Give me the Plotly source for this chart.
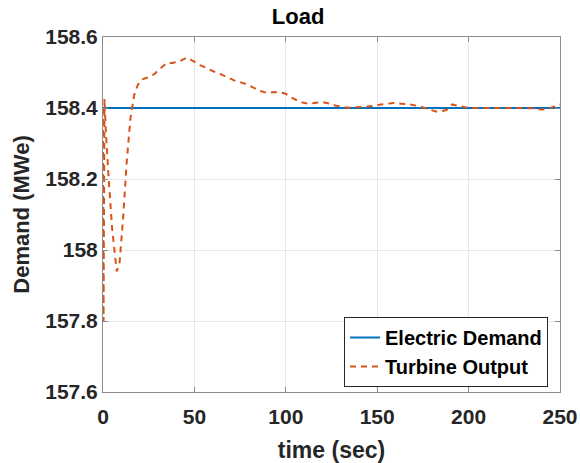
import plotly.graph_objects as go

# Simulation time (s) and turbine electrical output (MWe)
time_s = [0, 0.3, 0.8, 1.5, 3, 5, 7.5, 9, 11, 13, 15, 17, 19, 21, 24, 28, 31, 35, 38,
          42, 46, 49, 53, 57, 60, 64, 68, 72, 75, 79, 82, 86, 90, 94, 97, 100, 104,
          108, 112, 116, 120, 124, 127, 131, 135, 140, 144, 148, 152, 156, 159, 163,
          168, 173, 178, 182, 185, 188, 191, 195, 198, 202, 206, 210, 214, 218, 222,
          226, 231, 235, 240, 244, 248, 250]
turbine_output = [158.40, 157.80, 158.425, 158.34, 158.21, 158.06, 157.94, 157.96, 158.09,
                  158.25, 158.37, 158.435, 158.465, 158.48, 158.485, 158.495, 158.51,
                  158.527, 158.527, 158.532, 158.542, 158.532, 158.521, 158.512, 158.504,
                  158.496, 158.487, 158.477, 158.473, 158.466, 158.458, 158.448, 158.442,
                  158.445, 158.444, 158.44, 158.427, 158.417, 158.412, 158.415, 158.417,
                  158.412, 158.407, 158.403, 158.401, 158.403, 158.404, 158.406, 158.41,
                  158.413, 158.414, 158.412, 158.41, 158.405, 158.396, 158.39, 158.39,
                  158.395, 158.41, 158.405, 158.402, 158.40, 158.40, 158.401, 158.402,
                  158.40, 158.40, 158.40, 158.399, 158.399, 158.396, 158.398, 158.407,
                  158.41]

# Electric demand setpoint
demand_time = [0, 250]
demand_value = [158.4, 158.4]

# Axis ticks
x_ticks = [0, 50, 100, 150, 200, 250]
y_ticks = [157.6, 157.8, 158.0, 158.2, 158.4, 158.6]
y_tick_labels = ["157.6", "157.8", "158", "158.2", "158.4", "158.6"]

FONT = "Arial, Liberation Sans, Helvetica, sans-serif"
BLUE = "#0072BD"
ORANGE = "#D95319"

fig = go.Figure()
fig.add_trace(go.Scatter(x=demand_time, y=demand_value, mode="lines",
                         name="Electric Demand",
                         line=dict(color=BLUE, width=2)))
fig.add_trace(go.Scatter(x=time_s, y=turbine_output, mode="lines",
                         name="Turbine Output",
                         line=dict(color=ORANGE, width=2, dash="6px,5px")))

axis_common = dict(
    showline=True, linecolor="#8c8c8c", linewidth=1, mirror="ticks",
    ticks="inside", ticklen=5, tickcolor="#8c8c8c",
    showgrid=True, gridcolor="#e6e6e6", gridwidth=1,
    zeroline=False, automargin=False,
    tickfont=dict(family=FONT, size=21, color="#262626", weight="bold"),
)

fig.update_layout(
    width=580, height=463,
    margin=dict(l=103, r=20, t=37, b=71),
    paper_bgcolor="white", plot_bgcolor="white",
    title=dict(text="Load", x=0.514, xref="container", xanchor="center",
               y=1 - 16 / 463, yref="container", yanchor="middle",
               font=dict(family=FONT, size=22, color="black", weight="bold")),
    xaxis=dict(range=[0, 250], tickvals=x_ticks, ticklabelstandoff=6,
               title=dict(text="time (sec)", standoff=14,
                          font=dict(family=FONT, size=23, color="#262626", weight="bold")),
               **axis_common),
    yaxis=dict(range=[157.6, 158.6], tickvals=y_ticks, ticktext=y_tick_labels,
               title=dict(text="Demand (MWe)", standoff=9,
                          font=dict(family=FONT, size=22, color="#262626", weight="bold")),
               **axis_common),
    legend=dict(x=(548 - 103) / 457, xanchor="right", y=(392 - 387) / 355, yanchor="bottom",
                bgcolor="white", bordercolor="#262626", borderwidth=1,
                font=dict(family=FONT, size=20, color="black", weight="bold"),
                tracegroupgap=0, itemwidth=30),
    showlegend=True,
)

fig.write_html("out.html")
